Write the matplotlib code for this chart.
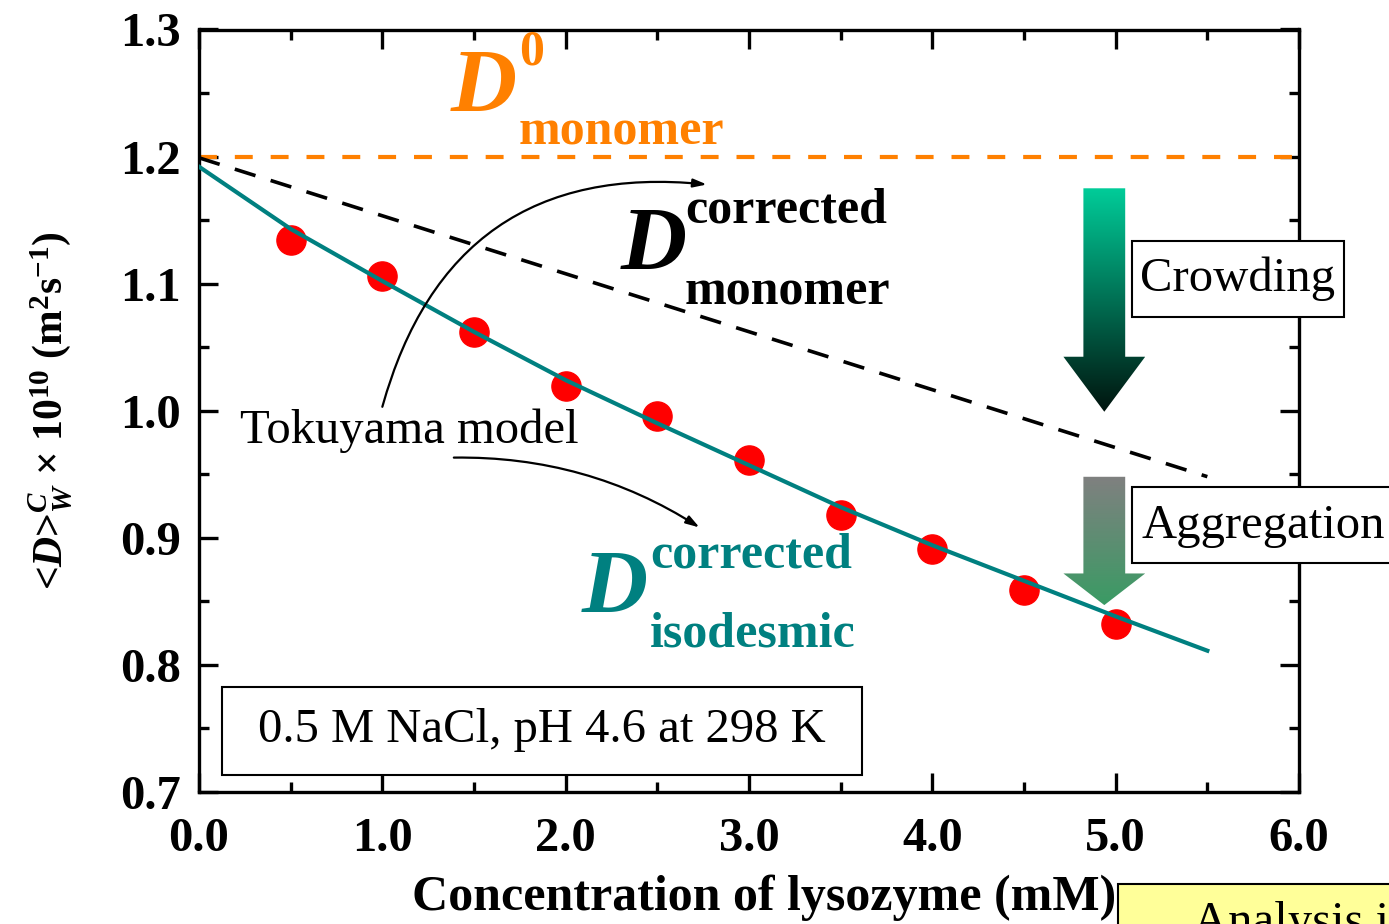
import numpy as np
import matplotlib
matplotlib.use("Agg")
import matplotlib.pyplot as plt
from matplotlib.patches import Polygon, Rectangle
from matplotlib.colors import LinearSegmentedColormap
from matplotlib.ticker import MultipleLocator

# Measured weight-averaged diffusion coefficients (x 1e-10 m^2/s)
conc_mM = [0.5, 1.0, 1.5, 2.0, 2.5, 3.0, 3.5, 4.0, 4.5, 5.0]
d_measured = [1.134, 1.106, 1.062, 1.019, 0.996, 0.961, 0.918, 0.891, 0.859, 0.832]

# Tokuyama-model curves
model_conc = [0.0, 0.5, 1.0, 1.5, 2.0, 2.5, 3.0, 3.5, 4.0, 4.5, 5.0, 5.5]
d_isodesmic = [1.192, 1.143, 1.102, 1.062, 1.024, 0.990, 0.957, 0.924, 0.894, 0.866, 0.838, 0.811]
mono_conc = [0.0, 5.5]
d_monomer_corr = [1.199, 0.948]

d0_monomer = 1.20

plt.rcParams["font.family"] = ["Liberation Serif", "DejaVu Serif"]
plt.rcParams["mathtext.fontset"] = "custom"
plt.rcParams["mathtext.rm"] = "Liberation Serif:bold"
plt.rcParams["mathtext.bf"] = "Liberation Serif:bold"
plt.rcParams["mathtext.it"] = "Liberation Serif:italic:bold"

FS = 35
W, H = 1389, 924
fig = plt.figure(figsize=(W / 100, H / 100), dpi=100)
ax = fig.add_axes([199 / W, 1 - 791.7 / H, 1100 / W, 762.2 / H])

ax.set_xlim(0, 6)
ax.set_ylim(0.7, 1.3)

# reference and model lines
ax.axhline(d0_monomer, color="#ff8000", lw=3.0, ls=(0, (4.3, 4.3)), zorder=2)
ax.plot(mono_conc, d_monomer_corr, color="black", lw=2.6, ls=(0, (6.0, 4.4)), zorder=2)
ax.plot(model_conc, d_isodesmic, color="#008080", lw=3.0, zorder=3)
ax.plot(conc_mM, d_measured, "o", color="red", ms=21, mec="red", zorder=2.5)

# axes styling
for s in ax.spines.values():
    s.set_linewidth(2.4)
ax.xaxis.set_major_locator(MultipleLocator(1.0))
ax.xaxis.set_minor_locator(MultipleLocator(0.5))
ax.yaxis.set_major_locator(MultipleLocator(0.1))
ax.yaxis.set_minor_locator(MultipleLocator(0.05))
ax.set_xticklabels([f"{v:.1f}" for v in ax.get_xticks()])
ax.set_yticklabels([f"{v:.1f}" for v in ax.get_yticks()])
ax.tick_params(which="both", direction="in", width=2.4, top=True, right=True,
               labelsize=FS)
ax.tick_params(axis="x", pad=18)
ax.tick_params(axis="y", pad=13)
ax.tick_params(which="major", length=14)
ax.tick_params(which="minor", length=7)
for lab in ax.get_xticklabels() + ax.get_yticklabels():
    lab.set_fontweight("bold")

ax.set_xlabel("Concentration of lysozyme (mM)", fontsize=36, fontweight="bold", labelpad=10)
ax.xaxis.label.set_x(0.514)
ax.set_ylabel(r"<$\mathit{D}$>$^{\mathit{C}}_{\mathit{W}}$ × 10$^{10}$ (m$^{2}$s$^{-1}$)",
              fontsize=30, fontweight="bold", labelpad=33)

# curve labels: big italic D with bold super/subscript words
def dlabel(xd, yd, xs, ysup, ysub, sup, sub, color):
    ax.text(xd, yd, "D", color=color, fontsize=66, fontweight="bold", style="italic", zorder=6)
    ax.text(xs, ysup, sup, color=color, fontsize=36, fontweight="bold", zorder=6)
    ax.text(xs, ysub, sub, color=color, fontsize=36, fontweight="bold", zorder=6)

dlabel(1.375, 1.2353, 1.744, 1.2721, 1.2091, "0", "monomer", "#ff8000")
dlabel(2.300, 1.1108, 2.651, 1.1478, 1.0832, "corrected", "monomer", "black")
dlabel(2.085, 0.8407, 2.461, 0.8763, 0.8144, "corrected", "isodesmic", "#008080")

ax.text(0.225, 0.9748, "Tokuyama model", fontsize=FS, zorder=6)

# curved pointers from the model label
ax.annotate("", xy=(2.77, 1.178), xytext=(1.00, 1.003),
            arrowprops=dict(arrowstyle="-|>,head_length=0.8,head_width=0.25", color="black", lw=1.6,
                            connectionstyle="arc3,rad=-0.42", shrinkA=0, shrinkB=0), zorder=6)
ax.annotate("", xy=(2.73, 0.908), xytext=(1.39, 0.963),
            arrowprops=dict(arrowstyle="-|>,head_length=0.8,head_width=0.25", color="black", lw=1.6,
                            connectionstyle="arc3,rad=-0.15", shrinkA=0, shrinkB=0), zorder=6)

# condition box
ax.add_patch(Rectangle((0.125, 0.7134), 3.49, 0.0693, facecolor="white", edgecolor="black",
                       lw=1.5, zorder=6))
ax.text(1.87, 0.7485, "0.5 M NaCl, pH 4.6 at 298 K", fontsize=FS, ha="center", va="center", zorder=7)

# gradient arrows
def gradient_arrow(x0, x1, hx0, hx1, ytop, yneck, ytip, c_top, c_bot):
    xm = (hx0 + hx1) / 2
    verts = [(x0, ytop), (x1, ytop), (x1, yneck), (hx1, yneck), (xm, ytip),
             (hx0, yneck), (x0, yneck)]
    poly = Polygon(verts, closed=True, facecolor="none", edgecolor="none")
    ax.add_patch(poly)
    cmap = LinearSegmentedColormap.from_list("grad", [c_bot, c_top])
    grad = np.linspace(0, 1, 256).reshape(-1, 1)
    im = ax.imshow(grad, extent=[hx0, hx1, ytip, ytop], origin="lower", cmap=cmap,
                   aspect="auto", zorder=4, interpolation="bilinear")
    im.set_clip_path(poly)

gradient_arrow(4.824, 5.052, 4.715, 5.161, 1.175, 1.0424, 0.9991, "#00cc99", "#00140e")
gradient_arrow(4.824, 5.052, 4.715, 5.161, 0.9479, 0.8718, 0.8469, "#808080", "#3a9b64")
ax.set_xlim(0, 6)
ax.set_ylim(0.7, 1.3)

# mechanism boxes
ax.add_patch(Rectangle((5.088, 1.0734), 1.155, 0.0604, facecolor="white", edgecolor="black",
                       lw=1.5, zorder=6, clip_on=False))
ax.text(5.665, 1.1035, "Crowding", fontsize=FS, ha="center", va="center", zorder=7, clip_on=False)
ax.add_patch(Rectangle((5.088, 0.8797), 1.6, 0.0600, facecolor="white", edgecolor="black",
                       lw=1.5, zorder=6, clip_on=False))
ax.text(5.14, 0.9090, "Aggregation", fontsize=FS, ha="left", va="center", zorder=7, clip_on=False)

# note box at the lower right edge
fig.patches.append(Rectangle((1118 / W, -0.05), 0.3, 0.05 + 40 / H, transform=fig.transFigure,
                             facecolor="#ffff99", edgecolor="black", lw=1.5, zorder=1))
fig.text(1193 / W, 1 - 935 / H, "Analysis is", fontsize=FS, ha="left", va="baseline", zorder=2)

fig.savefig("out.png", dpi=100)
